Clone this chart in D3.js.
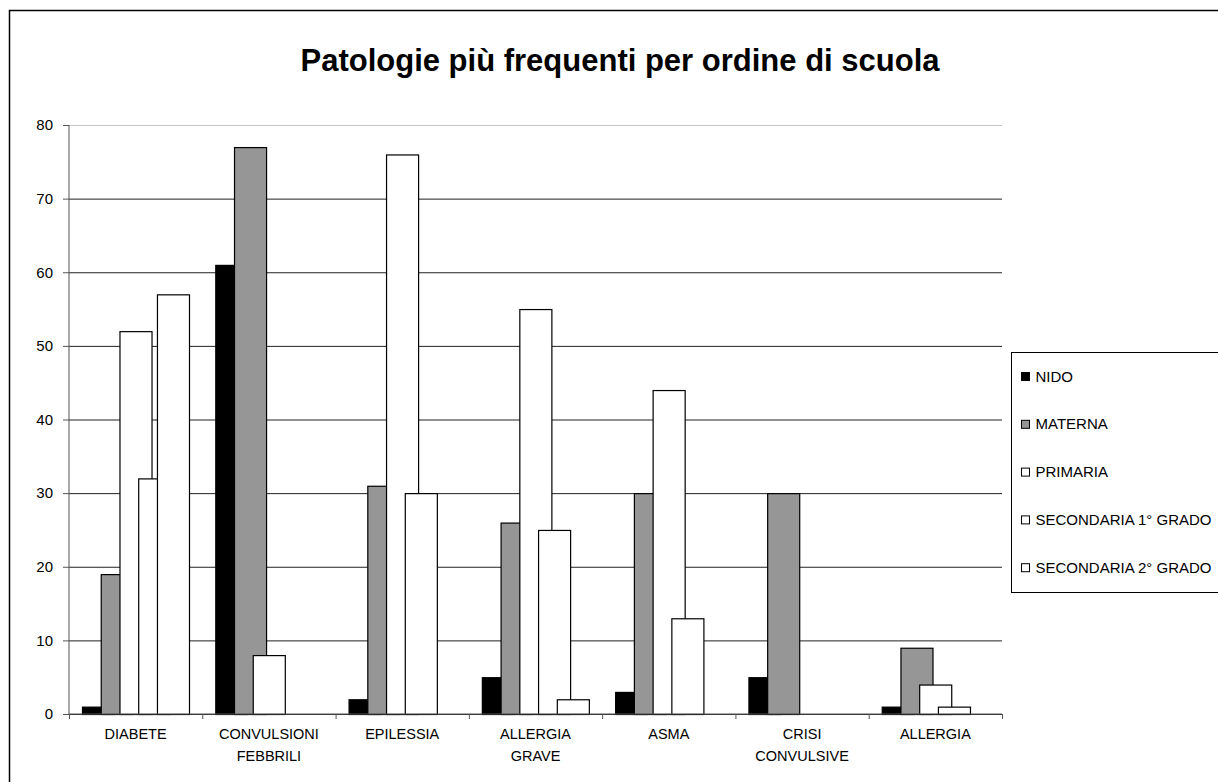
<!DOCTYPE html>
<html>
<head>
<meta charset="utf-8">
<script src="https://cdn.jsdelivr.net/npm/d3@7"></script>
<style>
  body { margin: 0; background: #fff; }
  text { font-family: "Liberation Sans", Arial, sans-serif; }
</style>
</head>
<body>
<script>
// data
var categories = ["DIABETE", "CONVULSIONI FEBBRILI", "EPILESSIA", "ALLERGIA GRAVE", "ASMA", "CRISI CONVULSIVE", "ALLERGIA"];
var seriesNames = ["NIDO", "MATERNA", "PRIMARIA", "SECONDARIA 1° GRADO", "SECONDARIA 2° GRADO"];
var nido = [1, 61, 2, 5, 3, 5, 1];
var materna = [19, 77, 31, 26, 30, 30, 9];
var primaria = [52, 8, 76, 55, 44, 0, 4];
var secondaria1 = [32, 0, 30, 25, 13, 0, 1];
var secondaria2 = [57, 0, 0, 2, 0, 0, 0];
var yTicks = [0, 10, 20, 30, 40, 50, 60, 70, 80];

var seriesValues = [nido, materna, primaria, secondaria1, secondaria2];
var seriesColors = ["#000000", "#969696", "#ffffff", "#ffffff", "#ffffff"];

var svgWidth = 1218;
var svgHeight = 782;

var margin = { top: 125, left: 69 };
var width = 933;
var height = 589;

var svg = d3.select("body")
  .append("svg")
  .attr("width", svgWidth)
  .attr("height", svgHeight);

// outer chart border (runs off the right and bottom edges)
svg.append("rect")
  .attr("x", 9.5)
  .attr("y", 10.5)
  .attr("width", 1300)
  .attr("height", 900)
  .attr("fill", "#fff")
  .attr("stroke", "#000")
  .attr("stroke-width", 1.5);

svg.append("text")
  .attr("x", 620)
  .attr("y", 71)
  .attr("text-anchor", "middle")
  .attr("font-size", "31px")
  .attr("font-weight", "bold")
  .text("Patologie più frequenti per ordine di scuola");

var chartGroup = svg.append("g")
  .attr("transform", `translate(${margin.left}, ${margin.top})`);

var yScale = d3.scaleLinear()
  .domain([0, 80])
  .range([height, 0]);

var xBand = d3.scaleBand()
  .domain(categories)
  .range([0, width])
  .padding(0);

// bars overlap inside a group, like the original
var step = xBand.bandwidth() * 0.1406;
var xInner = d3.scaleBand()
  .domain(d3.range(seriesNames.length))
  .range([xBand.bandwidth() * 0.0975, xBand.bandwidth() * 0.0975 + step * seriesNames.length]);
var barWidth = xInner.step() * 1.71;

// gridlines
var grid = chartGroup.append("g")
  .call(d3.axisLeft(yScale).tickValues(yTicks).tickSize(-width).tickFormat(""));
grid.select(".domain").remove();
grid.selectAll(".tick line")
  .attr("stroke", d => d === 80 ? "#c8c8c8" : "#222")
  .attr("stroke-width", 1);

// y axis
var yAxis = chartGroup.append("g")
  .call(d3.axisLeft(yScale).tickValues(yTicks).tickSize(6).tickPadding(10));
yAxis.select(".domain").attr("stroke", "#555").attr("d", `M0,0V${height}`);
yAxis.selectAll(".tick line").attr("stroke", "#555");
yAxis.selectAll(".tick text")
  .attr("font-size", "15px")
  .attr("fill", "#000")
  .attr("font-family", "Liberation Sans, Arial, sans-serif");

// bars, one series after the other so later ones sit on top
seriesValues.forEach(function(vals, si) {
  chartGroup.append("g")
    .selectAll("rect")
    .data(categories.map((c, i) => ({ cat: c, value: vals[i] })).filter(d => d.value > 0))
    .enter()
    .append("rect")
    .attr("x", d => xBand(d.cat) + xInner(si) + 0.5)
    .attr("y", d => yScale(d.value) + 0.5)
    .attr("width", barWidth)
    .attr("height", d => height - yScale(d.value))
    .attr("fill", seriesColors[si])
    .attr("stroke", "#000")
    .attr("stroke-width", 1.2);
});

// x axis with ticks between categories
var xLine = d3.scaleLinear().domain([0, categories.length]).range([0, width]);
var xAxis = chartGroup.append("g")
  .attr("transform", `translate(0, ${height})`)
  .call(d3.axisBottom(xLine).tickValues(d3.range(categories.length + 1)).tickSize(5).tickFormat(""));
xAxis.select(".domain").attr("stroke", "#555").attr("d", `M0,0H${width}`);
xAxis.selectAll(".tick line").attr("stroke", "#555");

var xLabels = chartGroup.append("g")
  .selectAll("text")
  .data(categories)
  .enter()
  .append("text")
  .attr("text-anchor", "middle")
  .attr("font-size", "14.5px")
  .attr("y", height + 25);

xLabels.each(function(d) {
  var words = d.split(" ");
  var t = d3.select(this);
  words.forEach(function(w, i) {
    t.append("tspan")
      .attr("x", xBand(d) + xBand.bandwidth() / 2)
      .attr("dy", i === 0 ? 0 : 22)
      .text(w);
  });
});

// legend
var legend = svg.append("g")
  .attr("transform", "translate(1011.5, 352.5)");

legend.append("rect")
  .attr("width", 300)
  .attr("height", 240)
  .attr("fill", "#fff")
  .attr("stroke", "#000")
  .attr("stroke-width", 1);

var legendItems = legend.selectAll(".item")
  .data(seriesNames)
  .enter()
  .append("g")
  .attr("transform", (d, i) => `translate(10, ${24 + i * 47.8})`);

legendItems.append("rect")
  .attr("x", 0)
  .attr("y", -4)
  .attr("width", 8)
  .attr("height", 8)
  .attr("fill", (d, i) => seriesColors[i])
  .attr("stroke", "#000")
  .attr("stroke-width", 1);

legendItems.append("text")
  .attr("x", 14)
  .attr("y", 5)
  .attr("font-size", "15px")
  .text(d => d);
</script>
</body>
</html>
